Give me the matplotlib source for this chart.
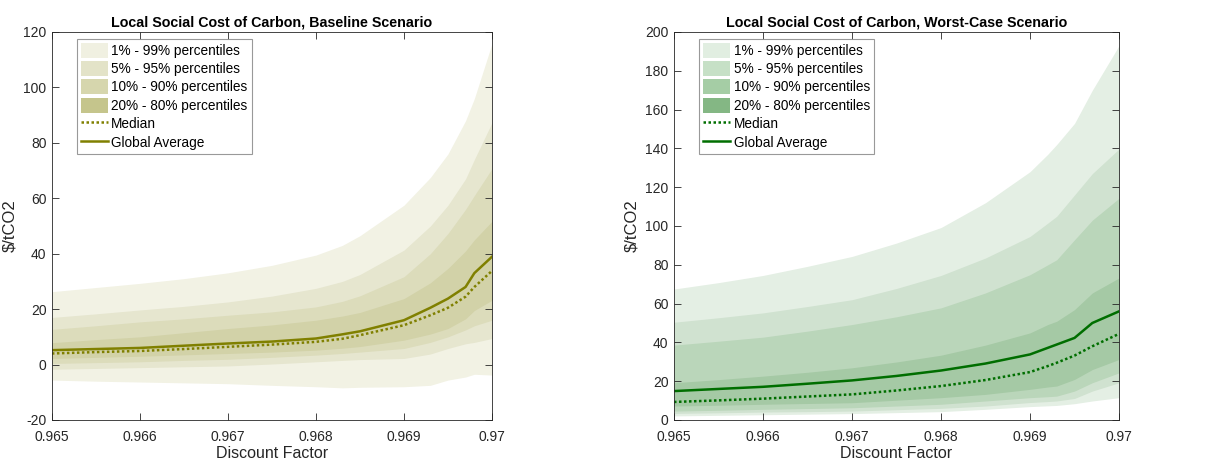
import matplotlib
matplotlib.use('Agg')
import matplotlib.pyplot as plt
from matplotlib.patches import Patch
from matplotlib.lines import Line2D
import numpy as np

plt.rcParams['font.family'] = ['Liberation Sans', 'DejaVu Sans']

# baseline scenario (left panel)
xBase = [0.965, 0.9655, 0.966, 0.9665, 0.967, 0.9675, 0.968, 0.9683, 0.9685,
         0.969, 0.9693, 0.9695, 0.9697, 0.9698, 0.970]
base_p99 = [26.3, 27.8, 29.3, 31.0, 33.1, 35.8, 39.5, 43.0, 46.5, 57.5, 67.5, 76.0, 88.0, 96.0, 115.8]
base_p95 = [17.0, 18.3, 19.7, 21.0, 22.6, 24.7, 27.5, 30.0, 32.5, 41.3, 50.0, 57.5, 67.0, 74.0, 87.3]
base_p90 = [12.7, 14.0, 15.4, 16.5, 17.8, 19.0, 20.8, 22.8, 24.8, 31.7, 40.0, 47.3, 56.0, 61.0, 70.7]
base_p80 = [7.9, 9.0, 10.0, 11.5, 13.0, 14.3, 16.0, 17.5, 18.8, 23.8, 29.5, 34.7, 41.0, 45.0, 51.7]
base_avg = [5.2, 5.6, 6.0, 6.8, 7.6, 8.3, 9.4, 10.9, 12.0, 16.0, 20.5, 23.8, 28.0, 33.0, 38.9]
base_med = [4.0, 4.5, 4.9, 5.6, 6.4, 7.2, 8.2, 9.3, 10.6, 14.2, 17.8, 20.5, 24.5, 28.0, 33.8]
base_p20 = [2.2, 2.6, 3.0, 3.5, 4.0, 4.5, 5.2, 5.9, 6.5, 8.8, 11.0, 13.0, 16.5, 19.5, 23.2]
base_p10 = [0.4, 0.7, 1.0, 1.5, 1.9, 2.6, 3.4, 4.0, 4.5, 5.8, 8.0, 10.0, 12.5, 14.0, 16.0]
base_p5 = [-1.7, -1.4, -1.1, -0.8, -0.5, 0.2, 1.0, 1.5, 1.8, 2.2, 3.8, 5.8, 7.5, 8.0, 9.4]
base_p1 = [-5.6, -6.0, -6.3, -6.6, -6.9, -7.5, -8.0, -8.4, -8.2, -8.0, -7.5, -5.6, -4.5, -3.5, -3.8]

# worst-case scenario (right panel)
xWorst = [0.965, 0.9655, 0.966, 0.9665, 0.967, 0.9675, 0.968, 0.9685, 0.969,
          0.9692, 0.9693, 0.9695, 0.9697, 0.970]
worst_p99 = [67.5, 70.8, 74.5, 79.2, 84.3, 91.2, 99.2, 112.0, 128.0, 137.0, 142.0, 152.9, 170.0, 193.0]
worst_p95 = [50.4, 52.7, 55.2, 58.5, 62.0, 67.8, 74.5, 83.5, 94.6, 101.5, 105.0, 116.0, 127.0, 139.7]
worst_p90 = [38.6, 40.6, 42.7, 45.8, 49.2, 53.2, 57.8, 65.5, 74.9, 80.0, 82.6, 92.9, 103.0, 114.3]
worst_p80 = [19.2, 20.8, 22.6, 24.6, 26.9, 29.9, 33.4, 38.6, 44.9, 49.2, 50.9, 56.9, 65.5, 73.2]
worst_avg = [14.9, 16.0, 17.1, 18.7, 20.4, 22.7, 25.5, 29.1, 33.8, 37.2, 38.9, 42.3, 50.0, 56.0]
worst_med = [9.3, 10.1, 11.0, 12.1, 13.2, 15.2, 17.5, 20.6, 24.7, 27.8, 29.5, 33.2, 38.0, 44.4]
worst_p20 = [7.2, 7.6, 8.1, 8.5, 8.9, 10.2, 11.5, 13.2, 15.8, 17.0, 17.5, 20.9, 26.0, 31.2]
worst_p10 = [4.6, 5.0, 5.5, 5.9, 6.3, 7.2, 8.1, 9.8, 11.5, 12.0, 12.3, 14.9, 19.2, 24.3]
worst_p5 = [3.4, 3.7, 4.1, 4.3, 4.6, 5.3, 6.0, 7.2, 9.0, 9.5, 9.8, 11.1, 14.9, 19.2]
worst_p1 = [2.1, 2.4, 2.7, 3.0, 3.3, 3.8, 4.3, 5.5, 6.9, 7.3, 7.5, 8.4, 9.8, 11.5]

bandLabels = ['1% - 99% percentiles', '5% - 95% percentiles',
              '10% - 90% percentiles', '20% - 80% percentiles']
xTicks = [0.965, 0.966, 0.967, 0.968, 0.969, 0.97]
xTickLabels = ['0.965', '0.966', '0.967', '0.968', '0.969', '0.97']


def draw_panel(ax, x, lows, highs, avg, med, plotColors, legColors, lineColor,
               title, ylim, yticks):
    x = np.array(x)
    # draw from outer to inner band, each opaque
    for k in range(4):
        ax.fill_between(x, lows[k], highs[k], color=plotColors[k], linewidth=0)
    ax.plot(x, med, linestyle=(0, (1, 1)), color=lineColor, linewidth=1.8)
    ax.plot(x, avg, '-', color=lineColor, linewidth=1.8)
    ax.set_xlim(0.965, 0.97)
    ax.set_ylim(ylim)
    ax.set_xticks(xTicks)
    ax.set_xticklabels(xTickLabels)
    ax.set_yticks(yticks)
    ax.set_yticklabels([str(v) for v in yticks])
    ax.tick_params(direction='in', top=True, right=True, labelsize=10,
                   colors='#262626', length=5, width=0.6, pad=4)
    ax.tick_params(axis='x', pad=7)
    for s in ax.spines.values():
        s.set_color('#262626')
        s.set_linewidth(0.6)
    ax.set_title(title, fontsize=10.3, fontweight='bold', pad=4)
    ax.set_xlabel('Discount Factor', fontsize=11.5, color='#262626', labelpad=2)
    ax.set_ylabel('$/tCO2', fontsize=12, color='#262626', labelpad=4)
    handles = [Patch(facecolor=legColors[k], edgecolor='none') for k in range(4)]
    handles.append(Line2D([], [], linestyle=(0, (1, 1)), color=lineColor, linewidth=1.8))
    handles.append(Line2D([], [], linestyle='-', color=lineColor, linewidth=1.8))
    leg = ax.legend(handles, bandLabels + ['Median', 'Global Average'],
                    loc='upper left', bbox_to_anchor=(0.05, 0.99), fontsize=9.8,
                    frameon=True, fancybox=False, handlelength=2.0,
                    handleheight=1.3, labelspacing=0.25, handletextpad=0.25,
                    borderpad=0.3, borderaxespad=0.2)
    leg.get_frame().set_edgecolor('#808080')
    leg.get_frame().set_linewidth(0.8)


fig = plt.figure(figsize=(12.25, 4.63), dpi=100)
ax1 = fig.add_axes([0.0424, 0.0929, 0.3592, 0.838])
ax2 = fig.add_axes([0.5502, 0.0929, 0.3633, 0.838])

draw_panel(ax1, xBase,
           [base_p1, base_p5, base_p10, base_p20],
           [base_p99, base_p95, base_p90, base_p80],
           base_avg, base_med,
           ['#F2F2E4', '#E6E6CF', '#DCDCBB', '#D2D2A8'],
           ['#F0F0E1', '#E3E3C8', '#D6D6AD', '#C5C58C'],
           '#808000',
           'Local Social Cost of Carbon, Baseline Scenario',
           (-20, 120), list(range(-20, 121, 20)))

draw_panel(ax2, xWorst,
           [worst_p1, worst_p5, worst_p10, worst_p20],
           [worst_p99, worst_p95, worst_p90, worst_p80],
           worst_avg, worst_med,
           ['#E4EFE4', '#D0E2D0', '#BAD6BA', '#A5C9A5'],
           ['#E1EEE1', '#C6E0C6', '#A5CDA5', '#84B784'],
           '#006E00',
           'Local Social Cost of Carbon, Worst-Case Scenario',
           (0, 200), list(range(0, 201, 20)))

fig.savefig('out.png', dpi=100)
